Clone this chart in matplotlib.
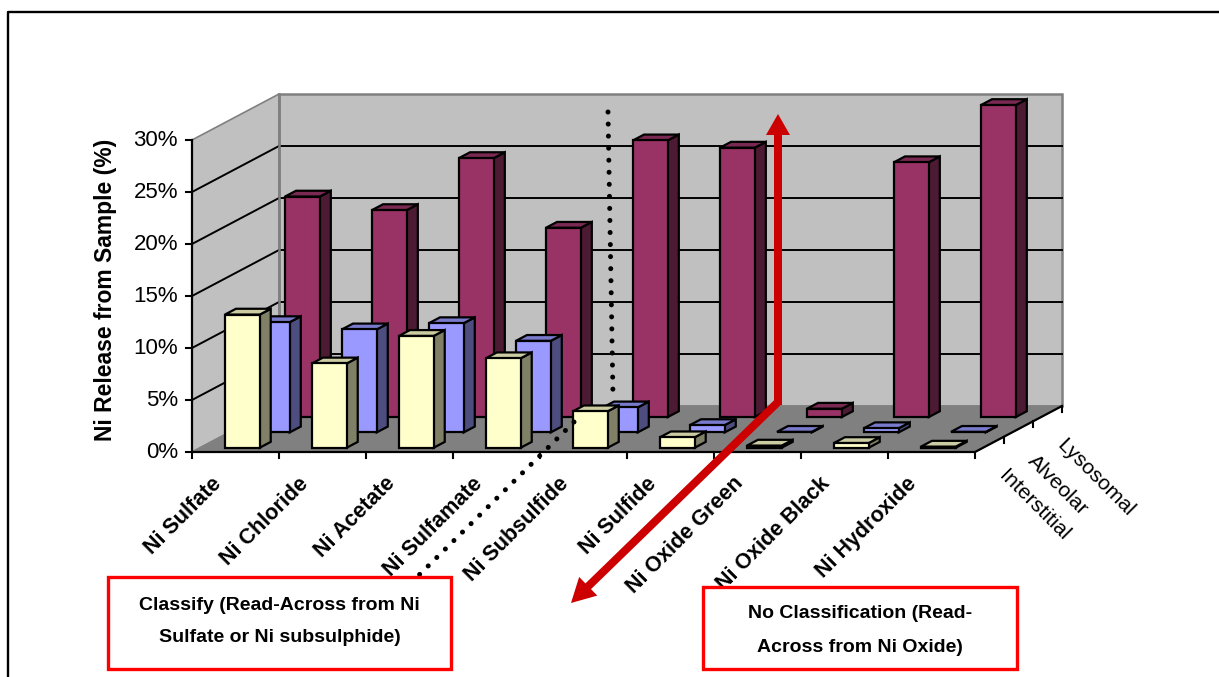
import matplotlib
matplotlib.use("Agg")
import matplotlib.pyplot as plt
from matplotlib.patches import Polygon, Rectangle, FancyArrow

plt.rcParams['font.family'] = ['Liberation Sans', 'DejaVu Sans']

categories = ["Ni Sulfate", "Ni Chloride", "Ni Acetate", "Ni Sulfamate", "Ni Subsulfide",
              "Ni Sulfide", "Ni Oxide Green", "Ni Oxide Black", "Ni Hydroxide"]
series_names = ["Interstitial", "Alveolar", "Lysosomal"]
interstitial = [12.8, 8.1, 10.75, 8.6, 3.5, 1.0, 0.2, 0.45, 0.1]
alveolar = [10.6, 9.9, 10.5, 8.8, 2.4, 0.7, 0.05, 0.4, 0.05]
lysosomal = [21.2, 19.9, 24.9, 18.2, 26.6, 25.9, 0.8, 24.5, 30.0]
y_ticks = [0, 5, 10, 15, 20, 25, 30]

# front, side, top colours for each series
face_colors = [("#FFFFCC", "#808066", "#CCCCA3"),
               ("#9999FF", "#4D4D80", "#7A7ACC"),
               ("#993366", "#4D1A33", "#7A2952")]

# oblique projection, everything below is in image pixels
X0, Y0 = 192, 452
CAT_W = 87
DEPTH_X, DEPTH_Y = 29.0, 15.33
PER_PCT = 10.4


def proj(i, d, v):
    return (X0 + CAT_W * i + DEPTH_X * d, Y0 - DEPTH_Y * d - PER_PCT * v)


n = len(categories)
LW = 1.6

fig = plt.figure(figsize=(12.19, 6.77), dpi=100)
ax = fig.add_axes([0, 0, 1, 1])
ax.set_xlim(0, 1219)
ax.set_ylim(677, 0)
ax.axis("off")

# outer frame of the slide
ax.plot([8, 8, 1219], [677, 12, 12], color="black", lw=1.7, zorder=1)

# walls and floor
left_wall = [proj(0, 0, 0), proj(0, 3, 0), proj(0, 3, 30), proj(0, 0, 30)]
back_wall = [proj(0, 3, 0), proj(n, 3, 0), proj(n, 3, 30), proj(0, 3, 30)]
floor = [proj(0, 0, 0), proj(n, 0, 0), proj(n, 3, 0), proj(0, 3, 0)]
ax.add_patch(Polygon(left_wall, fc="#C0C0C0", ec="#808080", lw=1.2, zorder=2))
ax.add_patch(Polygon(back_wall, fc="#C0C0C0", ec="#808080", lw=1.8, zorder=2))
ax.add_patch(Polygon(floor, fc="#808080", ec="#808080", lw=1, zorder=2))

# gridlines
for v in y_ticks[1:-1]:
    pts = [proj(0, 0, v), proj(0, 3, v), proj(n, 3, v)]
    ax.plot([p[0] for p in pts], [p[1] for p in pts], color="black", lw=1.4, zorder=3)
pts = [proj(0, 3, 0), proj(0, 3, 30)]
ax.plot([p[0] for p in pts], [p[1] for p in pts], color="#808080", lw=1.8, zorder=3)

# axis lines and ticks
axis_pts = [proj(0, 0, 30), proj(0, 0, 0), proj(n, 0, 0), proj(n, 3, 0)]
ax.plot([p[0] for p in axis_pts], [p[1] for p in axis_pts], color="black", lw=1.6, zorder=4)
for v in y_ticks:
    x, y = proj(0, 0, v)
    ax.plot([x - 6, x], [y, y], color="black", lw=1.5, zorder=4)
    ax.text(x - 14, y, "%d%%" % v, ha="right", va="center", fontsize=16, color="black")
for i in range(n + 1):
    x, y = proj(i, 0, 0)
    ax.plot([x, x], [y, y + 6], color="black", lw=1.5, zorder=4)
for d in range(1, 4):
    x, y = proj(n, d, 0)
    ax.plot([x, x], [y, y + 6], color="black", lw=1.5, zorder=4)

# bars, back row first
rows = [interstitial, alveolar, lysosomal]
z = 10
for r in [2, 1, 0]:
    front, side, top = face_colors[r]
    for i, v in enumerate(rows[r]):
        x0, x1 = i + 0.285 + 0.012 * r, i + 0.685 + 0.012 * r
        d0, d1 = r + 0.28, r + 0.66
        ax.add_patch(Polygon([proj(x1, d0, 0), proj(x1, d1, 0), proj(x1, d1, v), proj(x1, d0, v)],
                             fc=side, ec="black", lw=LW, zorder=z))
        ax.add_patch(Polygon([proj(x0, d0, v), proj(x1, d0, v), proj(x1, d1, v), proj(x0, d1, v)],
                             fc=top, ec="black", lw=LW, zorder=z))
        ax.add_patch(Polygon([proj(x0, d0, 0), proj(x1, d0, 0), proj(x1, d0, v), proj(x0, d0, v)],
                             fc=front, ec="black", lw=LW, zorder=z))
        z += 1

# category labels
for i, name in enumerate(categories):
    x, y = proj(i + 0.5, 0, 0)
    ax.text(x - 25, y + 21, name, rotation=45, rotation_mode="anchor", ha="right", va="top",
            fontsize=15.5, fontweight="bold", color="black", zorder=5)

# depth labels
for d, name in enumerate(series_names):
    x, y = proj(n, d + 0.5, 0)
    ax.text(x + 19, y + 22, name, rotation=-45, rotation_mode="anchor", ha="left", va="top",
            fontsize=15.3, color="black", zorder=5)

ax.text(106, 290, "Ni Release from Sample (%)", rotation=90, ha="center", va="center",
        fontsize=16.5, fontweight="bold", color="black")

# dotted read-across line, passes behind the bars at the bend
ax.plot([608, 613], [112, 396], color="black", lw=3.6, ls=(0, (0.01, 2.4)),
        dash_capstyle="round", zorder=9)
ax.plot([574, 417], [422, 577], color="black", lw=3.6, ls=(0, (0.01, 2.4)),
        dash_capstyle="round", zorder=60)

# red arrows
ax.add_patch(FancyArrow(778, 405, 0, -291, width=8, head_width=24, head_length=21,
                        length_includes_head=True, fc="#CC0000", ec="none", zorder=70))
ax.add_patch(FancyArrow(778, 402, -207, 201, width=8, head_width=26, head_length=24,
                        length_includes_head=True, fc="#CC0000", ec="none", zorder=70))

# classification boxes
ax.add_patch(Rectangle((108, 577), 343, 92, fc="white", ec="#FF0000", lw=2.4, zorder=80))
ax.text(279.5, 606, "Classify (Read-Across from Ni", ha="center", va="center",
        fontsize=14, fontweight="bold", color="black", zorder=81)
ax.text(279.5, 637, "Sulfate or Ni subsulphide)", ha="center", va="center",
        fontsize=14, fontweight="bold", color="black", zorder=81)
ax.add_patch(Rectangle((703, 587), 314, 82, fc="white", ec="#FF0000", lw=2.4, zorder=80))
ax.text(860, 613, "No Classification (Read-", ha="center", va="center",
        fontsize=14, fontweight="bold", color="black", zorder=81)
ax.text(860, 647, "Across from Ni Oxide)", ha="center", va="center",
        fontsize=14, fontweight="bold", color="black", zorder=81)

fig.savefig("out.png", dpi=100)
